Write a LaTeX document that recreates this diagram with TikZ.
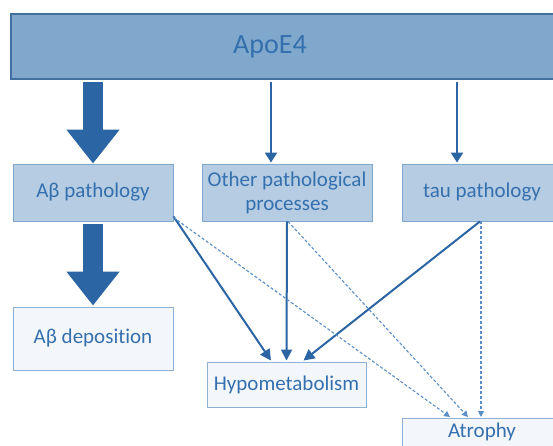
\documentclass[tikz,border=0pt]{standalone}
\usepackage{fontspec}
\setmainfont{Carlito}[Ligatures=NoCommon]
\usetikzlibrary{arrows.meta,calc}
\definecolor{apofill}{HTML}{80A8CC}
\definecolor{apoline}{HTML}{41719C}
\definecolor{midfill}{HTML}{B5CCE3}
\definecolor{midline}{HTML}{7FA6CC}
\definecolor{lightfill}{HTML}{F3F7FB}
\definecolor{lightline}{HTML}{8DB1D5}
\definecolor{arrowc}{HTML}{2B65A3}
\definecolor{dashc}{HTML}{5A8EC6}
\definecolor{txtc}{HTML}{3570AE}
\tikzset{
  apobox/.style={draw=apoline, fill=apofill, line width=1.2pt, minimum width=549pt, minimum height=65pt, inner sep=0pt},
  midbox/.style={draw=midline, fill=midfill, line width=0.9pt, minimum height=57pt, inner sep=0pt, align=center, text=txtc, font=\fontsize{21}{24}\selectfont},
  lightbox/.style={draw=lightline, fill=lightfill, line width=0.9pt, inner sep=0pt, align=center, text=txtc, font=\fontsize{21}{24}\selectfont},
  bigarrow/.style={arrowc, line width=20pt, -{Triangle[width=51pt,length=34pt]}},
  thinarrow/.style={arrowc, line width=2.4pt, -{Triangle[width=12pt,length=10pt]}},
  solidarrow/.style={arrowc, line width=2pt, -{Triangle[width=11pt,length=11pt]}},
  dasharrow/.style={dashc, line width=1.1pt, dash pattern=on 3pt off 2pt, -{Triangle[width=6pt,length=6pt]}}
}
\begin{document}
\begin{tikzpicture}[x=1pt,y=-1pt]
\useasboundingbox (0,0) rectangle (553,446);
\clip (0,0) rectangle (553,446);
\fill[white] (0,0) rectangle (553,446);
\node[apobox] (apo) at (285.5,46.5) {};
\node[text=txtc, font=\fontsize{28}{30}\selectfont] (apotxt) at (270,47) {ApoE4};
\node[midbox, minimum width=160pt] (abp) at (93,192.5) {Aβ pathology};
\node[midbox, minimum width=170pt] (oth) at (287,192.5) {Other pathological\\processes};
\node[midbox, minimum width=160pt] (tau) at (482,192.5) {tau pathology};
\node[lightbox, minimum width=160pt, minimum height=63pt] (dep) at (93,338.5) {Aβ deposition};
\node[lightbox, minimum width=159pt, minimum height=45pt] (hyp) at (286.5,384.5) {Hypometabolism};
\node[lightbox, minimum width=160pt, minimum height=44pt, anchor=north] (atr) at (482,418) {};
\node[text=txtc, font=\fontsize{21}{24}\selectfont] (atrtxt) at (482,431.5) {Atrophy};
% big arrows
\draw[bigarrow] ([yshift=-2pt]apo.south -| abp.north) -- (abp.north);
\draw[bigarrow] ([yshift=-3pt]abp.south) -- ([yshift=1pt]dep.north);
% thin arrows from ApoE4
\draw[thinarrow] ([xshift=-16pt,yshift=-2pt]apo.south -| oth.north) -- ([xshift=-16pt,yshift=1pt]oth.north);
\draw[thinarrow] ([xshift=-25pt,yshift=-2pt]apo.south -| tau.north) -- ([xshift=-25pt,yshift=1pt]tau.north);
% solid to hypometabolism
\draw[solidarrow] ([yshift=5pt]abp.south east) -- ([xshift=-15.5pt,yshift=1pt]hyp.north);
\draw[solidarrow] (oth.south) -- ([yshift=1pt]hyp.north);
\draw[solidarrow] ([xshift=-2pt]tau.south) -- ([xshift=17pt,yshift=1pt]hyp.north);
% dashed to atrophy
\draw[dasharrow] ([yshift=4pt]abp.south east) -- ([xshift=-32pt,yshift=1pt]atr.north);
\draw[dasharrow] ([xshift=1pt]oth.south) -- ([xshift=-14pt,yshift=1pt]atr.north);
\draw[dasharrow] ([xshift=-1pt]tau.south) -- ([xshift=-1pt,yshift=1pt]atr.north);
\end{tikzpicture}
\end{document}
